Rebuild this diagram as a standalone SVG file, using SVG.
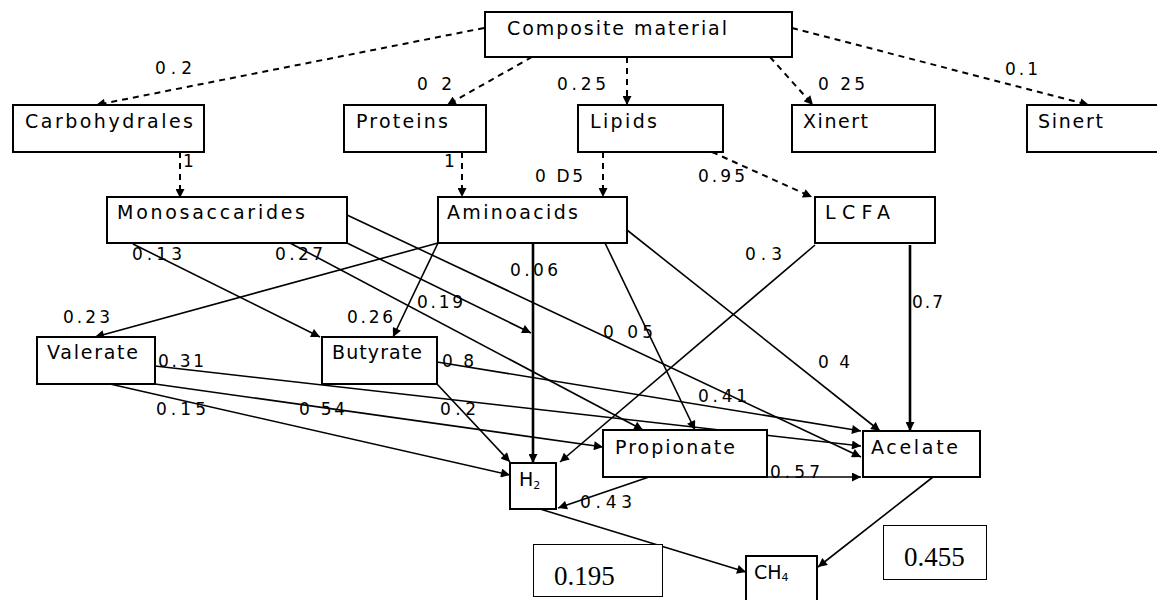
<svg xmlns="http://www.w3.org/2000/svg" width="1157" height="600" viewBox="0 0 1157 600">
<defs>
<marker id="ah" viewBox="0 0 10 10" refX="10" refY="5" markerWidth="10" markerHeight="9" markerUnits="userSpaceOnUse" orient="auto">
<path d="M0,0 L10,5 L0,10 z" fill="#000"/>
</marker>
<style>
.box{fill:#fff;stroke:#000;stroke-width:2}
.tbox{fill:#fff;stroke:#000;stroke-width:1}
.nl{font-family:"DejaVu Sans","Liberation Sans",Arial,sans-serif;font-size:19px;fill:#000}
.el{font-family:"DejaVu Sans","Liberation Sans",Arial,sans-serif;font-size:17px;fill:#000}
.vl{font-family:"Liberation Serif","Times New Roman",serif;font-size:27px;fill:#000}
.dash{fill:none;stroke:#000;stroke-width:2;stroke-dasharray:6 5;marker-end:url(#ah)}
.sol{fill:none;stroke:#000;stroke-width:1.6;marker-end:url(#ah)}
.thick{fill:none;stroke:#000;stroke-width:2.6;marker-end:url(#ah)}
</style>
</defs>
<rect width="1157" height="600" fill="#fff"/>

<g id="connectors">
<path class="dash" d="M484,28 L96,105"/>
<path class="dash" d="M532,57 L447,105"/>
<path class="dash" d="M627,57 L627,105"/>
<path class="dash" d="M770,57 L813,105"/>
<path class="dash" d="M792,28 L1089,105"/>
<path class="dash" d="M180,152 L180,198"/>
<path class="dash" d="M462,152 L462,197"/>
<path class="dash" d="M603,152 L603,197"/>
<path class="dash" d="M712,152 L812,197"/>

<path class="sol" d="M133,244 L320,337"/>
<path class="sol" d="M290,243 L643,430"/>
<path class="sol" d="M347,243 L531,333"/>
<path class="sol" d="M347,215 L861,457"/>
<path class="sol" d="M438,243 L95,337"/>
<path class="sol" d="M438,243 L393,337"/>
<path class="thick" d="M533,243 L533,463"/>
<path class="sol" d="M605,243 L695,430"/>
<path class="sol" d="M627,230 L880,431"/>
<path class="sol" d="M815,245 L560,462"/>
<path class="thick" d="M910,245 L910,431"/>
<path class="sol" d="M155,366 L861,446"/>
<path class="sol" d="M437,362 L861,431"/>
<path class="sol" d="M110,384 L510,475"/>
<path class="sol" d="M155,384 L603,447"/>
<path class="sol" d="M437,384 L510,462"/>
<path class="sol" d="M767,477 L861,477"/>
<path class="sol" d="M649,477 L558,508"/>
<path class="sol" d="M540,509 L746,572"/>
<path class="sol" d="M933,477 L818,567"/>
</g>

<g id="composite"><rect class="box" x="485" y="12" width="307" height="45"/><text class="nl" x="507" y="35" textLength="220" lengthAdjust="spacing">Composite material</text></g>
<g id="carbohydrates"><rect class="box" x="13" y="105" width="191" height="47"/><text class="nl" x="25" y="128" textLength="168" lengthAdjust="spacing">Carbohydrales</text></g>
<g id="proteins"><rect class="box" x="344" y="105" width="142" height="47"/><text class="nl" x="356" y="128" textLength="92" lengthAdjust="spacing">Proteins</text></g>
<g id="lipids"><rect class="box" x="578" y="105" width="145" height="47"/><text class="nl" x="590" y="128" textLength="67" lengthAdjust="spacing">Lipids</text></g>
<g id="xinert"><rect class="box" x="792" y="105" width="143" height="47"/><text class="nl" x="803" y="128" textLength="65" lengthAdjust="spacing">Xinert</text></g>
<g id="sinert"><rect class="box" x="1027" y="105" width="150" height="47"/><text class="nl" x="1038" y="128" textLength="65" lengthAdjust="spacing">Sinert</text></g>
<g id="monosaccarides"><rect class="box" x="107" y="197" width="240" height="46"/><text class="nl" x="117" y="219" textLength="188" lengthAdjust="spacing">Monosaccarides</text></g>
<g id="aminoacids"><rect class="box" x="438" y="197" width="189" height="46"/><text class="nl" x="447" y="219" textLength="131" lengthAdjust="spacing">Aminoacids</text></g>
<g id="lcfa"><rect class="box" x="815" y="197" width="120" height="46"/><text class="nl" x="825" y="219" textLength="65" lengthAdjust="spacing">LCFA</text></g>
<g id="valerate"><rect class="box" x="37" y="337" width="118" height="47"/><text class="nl" x="47" y="359" textLength="91" lengthAdjust="spacing">Valerate</text></g>
<g id="butyrate"><rect class="box" x="322" y="337" width="115" height="47"/><text class="nl" x="332" y="359" textLength="90" lengthAdjust="spacing">Butyrate</text></g>
<g id="propionate"><rect class="box" x="603" y="430" width="164" height="47"/><text class="nl" x="615" y="454" textLength="120" lengthAdjust="spacing">Propionate</text></g>
<g id="acelate"><rect class="box" x="863" y="431" width="117" height="46"/><text class="nl" x="871" y="454" textLength="87" lengthAdjust="spacing">Acelate</text></g>
<g id="h2"><rect class="box" x="510" y="463" width="46" height="46"/><text class="nl" x="519" y="486" font-size="16">H<tspan font-size="11" dy="3">2</tspan></text></g>
<g id="ch4"><rect class="box" x="746" y="556" width="71" height="60"/><text class="nl" x="754" y="579" font-size="16">CH<tspan font-size="11" dy="2">4</tspan></text></g>
<g id="value-0195"><rect class="tbox" x="533.5" y="544.5" width="129" height="52"/><text class="vl" x="554" y="585">0.195</text></g>
<g id="value-0455"><rect class="tbox" x="883.5" y="525.5" width="103" height="54"/><text class="vl" x="904" y="566">0.455</text></g>

<g id="edge-labels">
<text class="el" x="155" y="74" textLength="37" lengthAdjust="spacing">0.2</text>
<text class="el" x="417" y="90" textLength="35" lengthAdjust="spacing">0 2</text>
<text class="el" x="557" y="90" textLength="49" lengthAdjust="spacing">0.25</text>
<text class="el" x="818" y="90" textLength="47" lengthAdjust="spacing">0 25</text>
<text class="el" x="1005" y="75" textLength="33" lengthAdjust="spacing">0.1</text>
<text class="el" x="183" y="167">1</text>
<text class="el" x="444" y="167">1</text>
<text class="el" x="535" y="182" textLength="48" lengthAdjust="spacing">0 D5</text>
<text class="el" x="698" y="182" textLength="47" lengthAdjust="spacing">0.95</text>
<text class="el" x="132" y="260" textLength="50" lengthAdjust="spacing">0.13</text>
<text class="el" x="275" y="260" textLength="48" lengthAdjust="spacing">0.27</text>
<text class="el" x="510" y="276" textLength="48" lengthAdjust="spacing">0.06</text>
<text class="el" x="745" y="260" textLength="37" lengthAdjust="spacing">0.3</text>
<text class="el" x="417" y="308" textLength="46" lengthAdjust="spacing">0.19</text>
<text class="el" x="912" y="308" textLength="31" lengthAdjust="spacing">0.7</text>
<text class="el" x="63" y="323" textLength="47" lengthAdjust="spacing">0.23</text>
<text class="el" x="347" y="323" textLength="46" lengthAdjust="spacing">0.26</text>
<text class="el" x="603" y="338" textLength="50" lengthAdjust="spacing">0 05</text>
<text class="el" x="818" y="368" textLength="32" lengthAdjust="spacing">0 4</text>
<text class="el" x="158" y="367" textLength="46" lengthAdjust="spacing">0.31</text>
<text class="el" x="442" y="367" textLength="32" lengthAdjust="spacing">0 8</text>
<text class="el" x="698" y="402" textLength="49" lengthAdjust="spacing">0.41</text>
<text class="el" x="156" y="415" textLength="50" lengthAdjust="spacing">0.15</text>
<text class="el" x="299" y="415" textLength="46" lengthAdjust="spacing">0 54</text>
<text class="el" x="440" y="415" textLength="36" lengthAdjust="spacing">0.2</text>
<text class="el" x="770" y="478" textLength="50" lengthAdjust="spacing">0.57</text>
<text class="el" x="580" y="508" textLength="52" lengthAdjust="spacing">0.43</text>
</g>
</svg>
